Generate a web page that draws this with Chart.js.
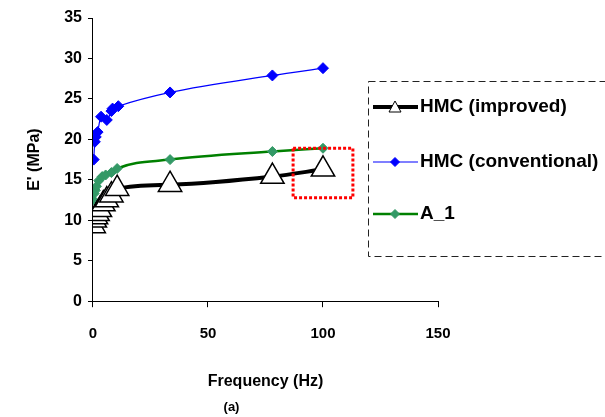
<!DOCTYPE html>
<html>
<head>
<meta charset="utf-8">
<script src="https://cdn.jsdelivr.net/npm/chart.js@4.4.0/dist/chart.umd.min.js"></script>
<style>
  html, body { margin: 0; padding: 0; background: #fff; }
  #wrap { width: 605px; height: 417px; position: relative; }
</style>
</head>
<body>
<div id="wrap"><canvas id="grafico"></canvas></div>
<script>
// valores
const freqImproved = [0.3, 0.8, 1.3, 2, 3, 4.5, 6, 8, 10.5, 33.5, 78, 100];
const eImproved    = [9.3, 10.0, 10.4, 10.8, 11.3, 12.0, 12.5, 13.1, 13.9, 14.4, 15.4, 16.3];

const freqConv = [0.3, 0.8, 1.2, 2, 3.5, 6, 8, 8.5, 11, 33.5, 78, 100];
const eConv    = [17.5, 19.7, 20.3, 20.9, 22.8, 22.4, 23.5, 23.8, 24.1, 25.8, 27.9, 28.8];

const freqA1 = [0.2, 0.5, 1, 1.5, 2.5, 4, 5.5, 8, 10.5, 33.5, 78, 100];
const eA1    = [12.5, 13.3, 13.7, 14.2, 14.9, 15.4, 15.6, 15.9, 16.4, 17.5, 18.5, 18.9];

const nomes = ['HMC (improved)', 'HMC (conventional)', 'A_1'];
const xTicks = [0, 50, 100, 150];
const yTicks = [0, 5, 10, 15, 20, 25, 30, 35];

// caixa vermelha pontilhada (em unidades dos eixos)
const destaqueX = [87, 113];
const destaqueY = [12.8, 18.9];

function pts(xs, ys) {
    return xs.map((x, i) => ({x: x, y: ys[i]}));
}

const fonte = 'Liberation Sans, Arial, sans-serif';

// legenda e caixa vermelha desenhadas a mao
const extras = {
    id: 'extras',
    afterDatasetsDraw(chart) {
        const c = chart.ctx;
        const sx = chart.scales.x, sy = chart.scales.y;
        c.save();
        c.strokeStyle = '#ff0000';
        c.lineWidth = 3;
        c.setLineDash([3, 2]);
        const x1 = sx.getPixelForValue(destaqueX[0]), x2 = sx.getPixelForValue(destaqueX[1]);
        const y1 = sy.getPixelForValue(destaqueY[1]), y2 = sy.getPixelForValue(destaqueY[0]);
        c.strokeRect(x1, y1, x2 - x1, y2 - y1);
        c.restore();
    },
    afterDraw(chart) {
        const c = chart.ctx;
        c.save();
        c.strokeStyle = '#222';
        c.lineWidth = 1;
        c.setLineDash([7, 4]);
        c.strokeRect(368.5, 81.5, 260, 175);
        c.setLineDash([]);
        const linhasY = [107, 162, 214];
        chart.data.datasets.forEach((ds, i) => {
            const y = linhasY[i];
            c.strokeStyle = ds.borderColor;
            c.lineWidth = ds.borderWidth;
            c.beginPath();
            c.moveTo(373, y);
            c.lineTo(418, y);
            c.stroke();
            c.fillStyle = ds.pointBackgroundColor;
            c.strokeStyle = ds.pointBorderColor;
            c.lineWidth = 1;
            c.beginPath();
            if (i === 0) {
                c.moveTo(395, y - 6);
                c.lineTo(401, y + 5);
                c.lineTo(389, y + 5);
            } else {
                c.moveTo(395, y - 4.5);
                c.lineTo(399.5, y);
                c.lineTo(395, y + 4.5);
                c.lineTo(390.5, y);
            }
            c.closePath();
            c.fill();
            c.stroke();
            c.fillStyle = '#000';
            c.font = 'bold 19px ' + fonte;
            c.textBaseline = 'middle';
            c.fillText(ds.label, 420, y);
        });
        c.restore();
    }
};

const grafico = new Chart(document.getElementById('grafico'), {
    type: 'line',
    data: {
        datasets: [{
            label: nomes[0],
            data: pts(freqImproved, eImproved),
            borderColor: '#000000',
            borderWidth: 4,
            pointStyle: 'triangle',
            pointRadius: 13.5,
            pointBackgroundColor: '#ffffff',
            pointBorderColor: '#000000',
            pointBorderWidth: 1.5,
            cubicInterpolationMode: 'monotone'
        }, {
            label: nomes[1],
            data: pts(freqConv, eConv),
            borderColor: '#0000ff',
            borderWidth: 1.2,
            pointStyle: 'rectRot',
            pointRadius: 5.5,
            pointBackgroundColor: '#0000ff',
            pointBorderColor: '#0000ff',
            pointBorderWidth: 1,
            cubicInterpolationMode: 'monotone'
        }, {
            label: nomes[2],
            data: pts(freqA1, eA1),
            borderColor: '#008000',
            borderWidth: 2.5,
            pointStyle: 'rectRot',
            pointRadius: 5,
            pointBackgroundColor: '#339966',
            pointBorderColor: '#339966',
            pointBorderWidth: 1,
            cubicInterpolationMode: 'monotone'
        }]
    },
    options: {
        responsive: true,
        maintainAspectRatio: false,
        animation: false,
        layout: { padding: { left: 25, right: 167, top: 18, bottom: 2 } },
        plugins: {
            legend: { display: false },
            tooltip: { enabled: false },
            subtitle: {
                display: true,
                position: 'bottom',
                text: '(a)',
                color: '#000',
                font: { family: fonte, size: 13, weight: 'bold' },
                padding: { top: 8, bottom: 0 }
            }
        },
        scales: {
            x: {
                type: 'linear',
                min: 0,
                max: 150,
                afterBuildTicks: s => { s.ticks = xTicks.map(v => ({value: v})); },
                grid: { display: true, drawOnChartArea: false, drawTicks: true, tickLength: 6, color: '#000' },
                border: { color: '#000', width: 1 },
                ticks: { color: '#000', font: { family: fonte, size: 15, weight: 'bold' }, padding: 18, maxRotation: 0 },
                title: {
                    display: true,
                    text: 'Frequency (Hz)',
                    color: '#000',
                    font: { family: fonte, size: 16, weight: 'bold' },
                    padding: { top: 11, bottom: 0 }
                }
            },
            y: {
                min: 0,
                max: 35,
                afterBuildTicks: s => { s.ticks = yTicks.map(v => ({value: v})); },
                grid: { display: true, drawOnChartArea: false, drawTicks: true, tickLength: 5, color: '#000' },
                border: { color: '#000', width: 1 },
                ticks: { color: '#000', font: { family: fonte, size: 16, weight: 'bold' }, padding: 6 },
                title: {
                    display: true,
                    text: "E' (MPa)",
                    color: '#000',
                    font: { family: fonte, size: 16, weight: 'bold' },
                    padding: { top: 0, bottom: 14 }
                }
            }
        }
    },
    plugins: [extras]
});
</script>
</body>
</html>
